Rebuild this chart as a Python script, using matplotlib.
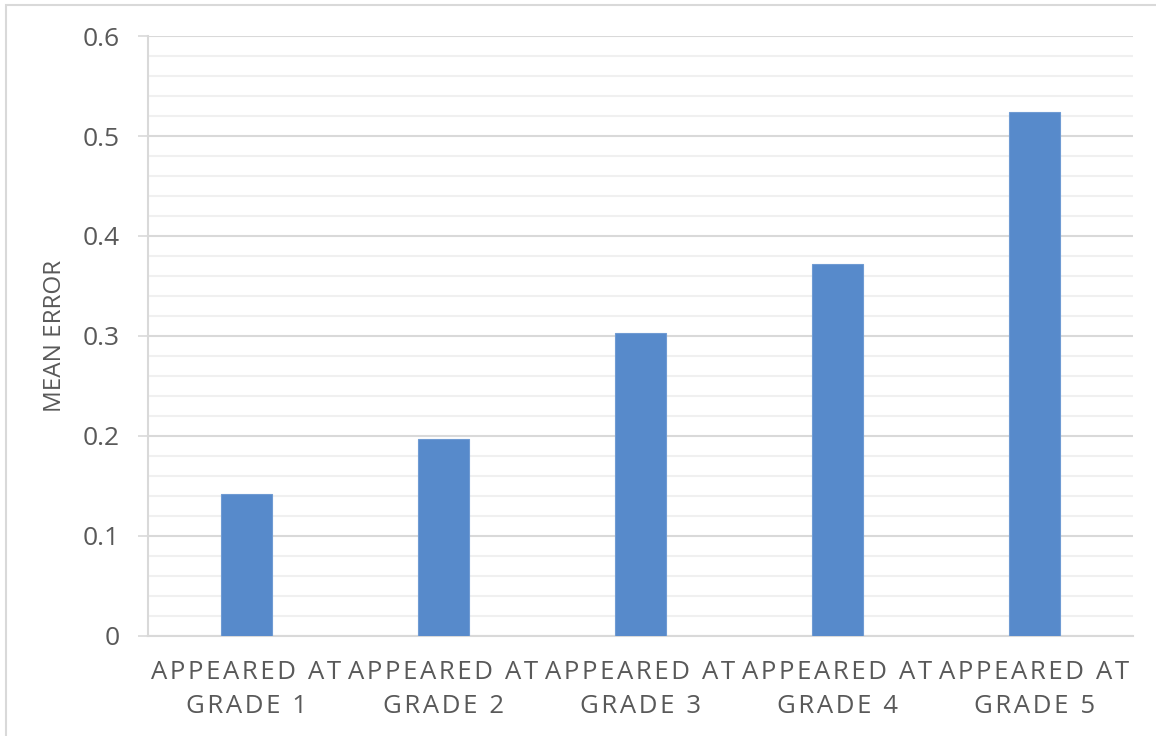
import matplotlib
matplotlib.use("Agg")
import matplotlib.pyplot as plt
from matplotlib.patches import Rectangle
from matplotlib.ticker import MultipleLocator

categories = ["APPEARED AT\nGRADE 1", "APPEARED AT\nGRADE 2", "APPEARED AT\nGRADE 3",
              "APPEARED AT\nGRADE 4", "APPEARED AT\nGRADE 5"]
mean_error = [0.142, 0.197, 0.303, 0.372, 0.524]
y_ticks = [0, 0.1, 0.2, 0.3, 0.4, 0.5, 0.6]
y_tick_labels = ["0", "0.1", "0.2", "0.3", "0.4", "0.5", "0.6"]

TEXT = "#595959"
GRID_MAJOR = "#d9d9d9"
GRID_MINOR = "#f0f0f0"
BAR = "#578acb"
FONTS = ["Open Sans", "DejaVu Sans"]
HAIR = "\u200a"


def spaced(label):
    # widen the tracking of the category labels
    return "\n".join(HAIR.join(line) for line in label.split("\n"))


plt.rcParams["font.family"] = FONTS

fig = plt.figure(figsize=(11.56, 7.36), dpi=100)
ax = fig.add_axes([0.128, 0.1363, 0.852, 0.8147])

x = range(len(categories))
ax.bar(x, mean_error, width=0.255, color=BAR, edgecolor="#6f9bd3",
       linewidth=0.8, zorder=3)

ax.set_xlim(-0.5, len(categories) - 0.5)
ax.set_ylim(0, 0.6)
ax.set_yticks(y_ticks)
ax.set_yticklabels(y_tick_labels)
ax.yaxis.set_minor_locator(MultipleLocator(0.02))
ax.grid(axis="y", which="major", color=GRID_MAJOR, linewidth=1.5, zorder=1)
ax.grid(axis="y", which="minor", color=GRID_MINOR, linewidth=1.5, zorder=0)

ax.set_xticks(list(x))
ax.set_xticklabels([spaced(c) for c in categories], linespacing=1.5)
ax.tick_params(axis="x", length=0, pad=17.5, labelsize=18.5, labelcolor=TEXT)
ax.tick_params(axis="y", which="major", length=7.5, width=1.2, color=GRID_MAJOR,
               pad=13, labelsize=19, labelcolor=TEXT)
ax.tick_params(axis="y", which="minor", length=0)

for side in ("top", "right"):
    ax.spines[side].set_visible(False)
for side in ("left", "bottom"):
    ax.spines[side].set_color(GRID_MAJOR)
    ax.spines[side].set_linewidth(1.5)

ax.set_ylabel("MEAN ERROR", fontsize=17.5, color=TEXT, labelpad=11)

# outer chart frame
fig.patches.append(Rectangle((6 / 1156, -0.1), 1.2, 1 - 5 / 736 + 0.1,
                             transform=fig.transFigure, fill=False,
                             edgecolor=GRID_MAJOR, linewidth=1.5))

fig.savefig("out.png", dpi=100, facecolor="white")
